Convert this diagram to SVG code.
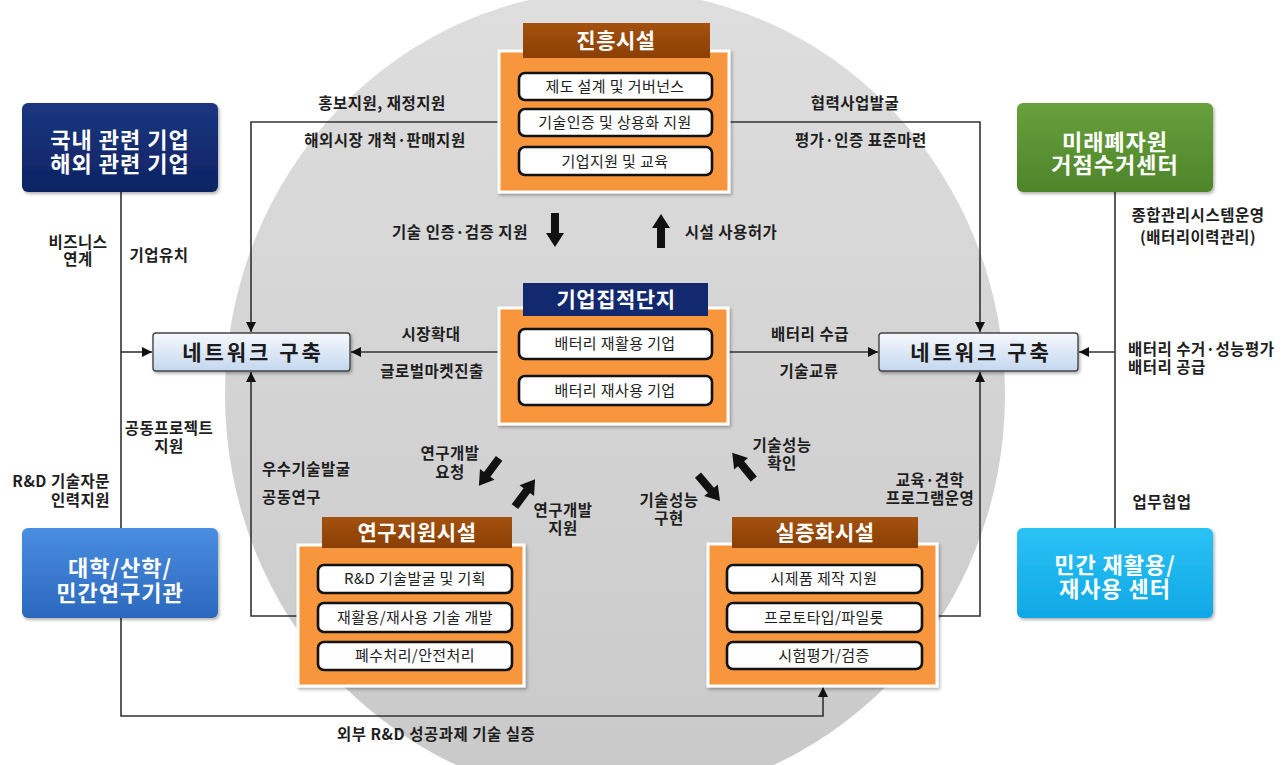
<svg xmlns="http://www.w3.org/2000/svg" width="1288" height="765" viewBox="0 0 1288 765">
<defs>
<style>
text{font-family:"Noto Sans CJK KR","Noto Sans",sans-serif;}
.lbl{font-size:15.5px;font-weight:bold;fill:#1e1e1e;letter-spacing:0.5px;}
.mid{text-anchor:middle;}
.end{text-anchor:end;}
.line{stroke:#333;stroke-width:1.6;fill:none;}
.cont{fill:#f7963d;stroke:#fff;stroke-width:3;}
.tab{stroke:none;}
.ttl{font-size:21px;font-weight:bold;fill:#fff;text-anchor:middle;letter-spacing:0.5px;}
.item{fill:#fff;stroke:#111;stroke-width:2.6;}
.itxt{font-size:15px;fill:#222;text-anchor:middle;letter-spacing:0.4px;}
.net{fill:url(#gNet);stroke:#444;stroke-width:1.4;}
.ntxt{font-size:21px;font-weight:bold;fill:#1a1a1a;text-anchor:middle;letter-spacing:3px;}
.otxt{font-size:22px;font-weight:bold;fill:#fff;text-anchor:middle;letter-spacing:1px;}
.blk{fill:#111;}
</style>
<linearGradient id="gCircle" x1="0" y1="0" x2="0" y2="1">
<stop offset="0" stop-color="#dedede"/><stop offset="1" stop-color="#c9c9c9"/>
</linearGradient>
<linearGradient id="gNet" x1="0" y1="0" x2="0" y2="1">
<stop offset="0" stop-color="#f6f9fd"/><stop offset="1" stop-color="#c4d7ef"/>
</linearGradient>
<linearGradient id="gTab" x1="0" y1="0" x2="0" y2="1">
<stop offset="0" stop-color="#a4520e"/><stop offset="1" stop-color="#8a3f04"/>
</linearGradient>
<linearGradient id="gNavy" x1="0" y1="0" x2="0" y2="1">
<stop offset="0" stop-color="#1b3680"/><stop offset="1" stop-color="#0e2463"/>
</linearGradient>
<linearGradient id="gBlue" x1="0" y1="0" x2="0" y2="1">
<stop offset="0" stop-color="#4a8ee0"/><stop offset="1" stop-color="#2b68bd"/>
</linearGradient>
<linearGradient id="gGreen" x1="0" y1="0" x2="0" y2="1">
<stop offset="0" stop-color="#68a03c"/><stop offset="1" stop-color="#4e852a"/>
</linearGradient>
<linearGradient id="gCyan" x1="0" y1="0" x2="0" y2="1">
<stop offset="0" stop-color="#2cc2f5"/><stop offset="1" stop-color="#0fa8e6"/>
</linearGradient>
<filter id="sh" x="-10%" y="-10%" width="125%" height="130%">
<feDropShadow dx="1.5" dy="2" stdDeviation="1.6" flood-color="#000" flood-opacity="0.3"/>
</filter>
<marker id="ah" viewBox="0 0 10 10" refX="10" refY="5" markerWidth="10" markerHeight="10" markerUnits="userSpaceOnUse" orient="auto">
<path d="M0,0 L10,5 L0,10 z" fill="#111"/>
</marker>
<path id="bArrow" d="M-4,17 L-4,-3 L-9,-3 L0,-17 L9,-3 L4,-3 L4,17 Z"/>
</defs>

<rect width="1288" height="765" fill="#fff"/>
<ellipse id="bgCircle" cx="615" cy="395" rx="390" ry="405" fill="url(#gCircle)"/>

<g id="connectors">
<path class="line" d="M499,122 H251 V332" marker-end="url(#ah)"/>
<path class="line" d="M729,122 H980 V332" marker-end="url(#ah)"/>
<path class="line" d="M499,352 H351" marker-end="url(#ah)"/>
<path class="line" d="M728,352 H878" marker-end="url(#ah)"/>
<path class="line" d="M298,616 H251 V372" marker-end="url(#ah)"/>
<path class="line" d="M937,616 H980 V372" marker-end="url(#ah)"/>
<path class="line" d="M121,192 V716 H823 V687" marker-end="url(#ah)"/>
<path class="line" d="M121,352 H152" marker-end="url(#ah)"/>
<path class="line" d="M1115,192 V528"/>
<path class="line" d="M1115,352 H1079" marker-end="url(#ah)"/>
<use href="#bArrow" class="blk" transform="translate(555,230) rotate(180)"/>
<use href="#bArrow" class="blk" transform="translate(661,231)"/>
<use href="#bArrow" class="blk" transform="translate(489,472) rotate(-143.5)"/>
<use href="#bArrow" class="blk" transform="translate(525,493) rotate(36.5)"/>
<use href="#bArrow" class="blk" transform="translate(709,488) rotate(139.6)"/>
<use href="#bArrow" class="blk" transform="translate(743,466) rotate(-39.4)"/>
</g>

<g id="labels">
<text class="lbl mid" x="382" y="109">홍보지원, 재정지원</text>
<text class="lbl mid" x="385" y="146">해외시장 개척·판매지원</text>
<text class="lbl mid" x="855" y="109">협력사업발굴</text>
<text class="lbl mid" x="861" y="146">평가·인증 표준마련</text>
<text class="lbl mid" x="460" y="238">기술 인증·검증 지원</text>
<text class="lbl mid" x="731" y="238">시설 사용허가</text>
<text class="lbl mid" x="431" y="340">시장확대</text>
<text class="lbl mid" x="432" y="377">글로벌마켓진출</text>
<text class="lbl mid" x="810" y="340">배터리 수급</text>
<text class="lbl mid" x="809" y="377">기술교류</text>
<text class="lbl mid" x="78" y="248">비즈니스<tspan x="78" dy="17">연계</tspan></text>
<text class="lbl mid" x="159" y="261">기업유치</text>
<text class="lbl mid" x="169" y="434">공동프로젝트<tspan x="169" dy="18">지원</tspan></text>
<text class="lbl end" x="110" y="487">R&amp;D 기술자문<tspan x="110" dy="19">인력지원</tspan></text>
<text class="lbl" x="262" y="475">우수기술발굴<tspan x="262" dy="28">공동연구</tspan></text>
<text class="lbl mid" x="450" y="459">연구개발<tspan x="450" dy="19">요청</tspan></text>
<text class="lbl mid" x="563" y="516">연구개발<tspan x="563" dy="18">지원</tspan></text>
<text class="lbl mid" x="669" y="506">기술성능<tspan x="669" dy="18">구현</tspan></text>
<text class="lbl mid" x="782" y="451">기술성능<tspan x="782" dy="18">확인</tspan></text>
<text class="lbl mid" x="930" y="486">교육·견학<tspan x="930" dy="18">프로그램운영</tspan></text>
<text class="lbl" x="337" y="740">외부 R&amp;D 성공과제 기술 실증</text>
<text class="lbl mid" x="1198" y="221">종합관리시스템운영<tspan x="1198" dy="22">(배터리이력관리)</tspan></text>
<text class="lbl" x="1128" y="355">배터리 수거·성능평가<tspan x="1128" dy="18">배터리 공급</tspan></text>
<text class="lbl mid" x="1162" y="508">업무협업</text>
</g>

<g id="node-domestic">
<rect x="22" y="103" width="196" height="89" rx="6" fill="url(#gNavy)" filter="url(#sh)"/>
<text class="otxt" x="120" y="148">국내 관련 기업<tspan x="120" dy="24">해외 관련 기업</tspan></text>
</g>
<g id="node-university">
<rect x="22" y="528" width="196" height="90" rx="6" fill="url(#gBlue)" filter="url(#sh)"/>
<text class="otxt" x="120" y="576">대학/산학/<tspan x="120" dy="25">민간연구기관</tspan></text>
</g>
<g id="node-collection">
<rect x="1017" y="103" width="196" height="89" rx="6" fill="url(#gGreen)" filter="url(#sh)"/>
<text class="otxt" x="1115" y="150">미래폐자원<tspan x="1115" dy="23">거점수거센터</tspan></text>
</g>
<g id="node-private">
<rect x="1017" y="528" width="196" height="90" rx="6" fill="url(#gCyan)" filter="url(#sh)"/>
<text class="otxt" x="1115" y="573">민간 재활용/<tspan x="1115" dy="24">재사용 센터</tspan></text>
</g>

<g id="node-network-left">
<rect class="net" x="153" y="333" width="197" height="38" rx="3" filter="url(#sh)"/>
<text class="ntxt" x="253" y="360">네트워크 구축</text>
</g>
<g id="node-network-right">
<rect class="net" x="879" y="333" width="199" height="38" rx="3" filter="url(#sh)"/>
<text class="ntxt" x="981" y="360">네트워크 구축</text>
</g>

<g id="node-promotion">
<rect class="cont" x="499" y="51" width="230" height="141" filter="url(#sh)"/>
<rect class="tab" x="523" y="23" width="187" height="35" fill="url(#gTab)"/>
<text class="ttl" x="616" y="48">진흥시설</text>
<rect class="item" x="519" y="73" width="193" height="27" rx="6"/>
<text class="itxt" x="615" y="92">제도 설계 및 거버넌스</text>
<rect class="item" x="519" y="109" width="193" height="27" rx="6"/>
<text class="itxt" x="615" y="128">기술인증 및 상용화 지원</text>
<rect class="item" x="519" y="147" width="193" height="28" rx="6"/>
<text class="itxt" x="615" y="167">기업지원 및 교육</text>
</g>

<g id="node-cluster">
<rect class="cont" x="499" y="308" width="229" height="116" filter="url(#sh)"/>
<rect class="tab" x="523" y="283" width="185" height="33" fill="#12286f"/>
<text class="ttl" x="616" y="307">기업집적단지</text>
<rect class="item" x="519" y="329" width="193" height="30" rx="6"/>
<text class="itxt" x="615" y="349">배터리 재활용 기업</text>
<rect class="item" x="519" y="376" width="193" height="29" rx="6"/>
<text class="itxt" x="615" y="396">배터리 재사용 기업</text>
</g>

<g id="node-research">
<rect class="cont" x="298" y="545" width="226" height="141" filter="url(#sh)"/>
<rect class="tab" x="322" y="517" width="190" height="31" fill="url(#gTab)"/>
<text class="ttl" x="417" y="540">연구지원시설</text>
<rect class="item" x="318" y="565" width="194" height="28" rx="6"/>
<text class="itxt" x="415" y="584">R&amp;D 기술발굴 및 기획</text>
<rect class="item" x="318" y="603" width="194" height="29" rx="6"/>
<text class="itxt" x="415" y="623">재활용/재사용 기술 개발</text>
<rect class="item" x="318" y="642" width="194" height="28" rx="6"/>
<text class="itxt" x="415" y="661">폐수처리/안전처리</text>
</g>

<g id="node-demo">
<rect class="cont" x="708" y="544" width="229" height="142" filter="url(#sh)"/>
<rect class="tab" x="732" y="517" width="186" height="31" fill="url(#gTab)"/>
<text class="ttl" x="825" y="540">실증화시설</text>
<rect class="item" x="727" y="565" width="195" height="28" rx="6"/>
<text class="itxt" x="824" y="584">시제품 제작 지원</text>
<rect class="item" x="727" y="603" width="195" height="29" rx="6"/>
<text class="itxt" x="824" y="623">프로토타입/파일롯</text>
<rect class="item" x="727" y="642" width="195" height="27" rx="6"/>
<text class="itxt" x="824" y="661">시험평가/검증</text>
</g>
</svg>
